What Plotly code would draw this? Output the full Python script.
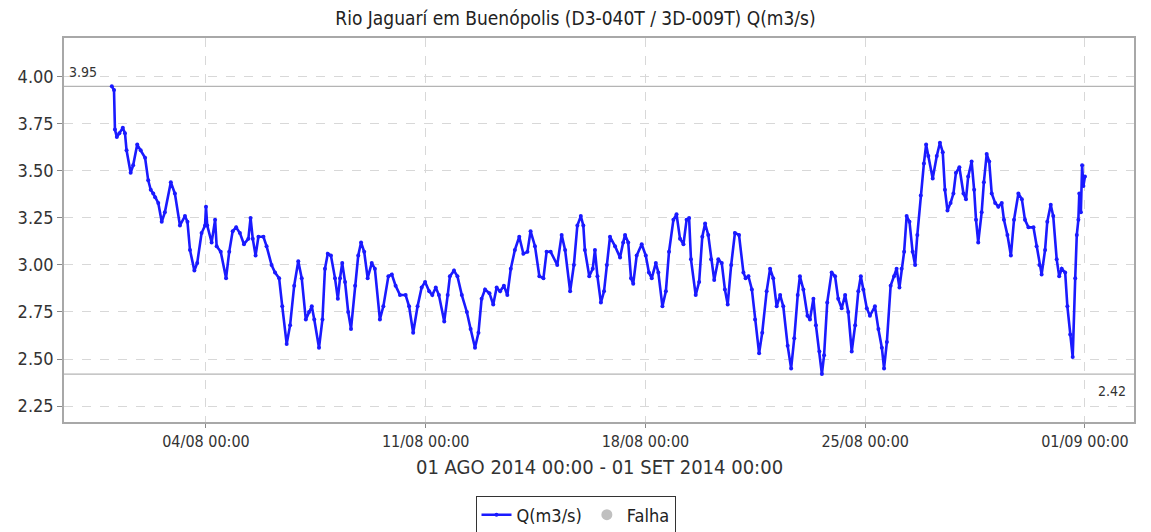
import pandas as pd
import plotly.graph_objects as go

# ---- data ----
start = "2014-08-01 00:00"
days = [0.00, 0.07, 0.10, 0.16, 0.24, 0.35, 0.42, 0.47, 0.60, 0.68, 0.81, 0.92, 1.06, 1.16, 1.24, 1.32, 1.38, 1.48, 1.59, 1.69,
        1.88, 2.01, 2.17, 2.33, 2.41, 2.49, 2.63, 2.72, 2.86, 2.97, 3.00, 3.04, 3.18, 3.29, 3.34, 3.47, 3.64, 3.74, 3.85, 3.96,
        4.08, 4.21, 4.35, 4.42, 4.49, 4.58, 4.67, 4.83, 4.93, 5.09,
        5.20, 5.33, 5.43, 5.57, 5.68, 5.81, 5.94, 6.05, 6.18, 6.28, 6.37, 6.45, 6.60, 6.71, 6.79, 6.88, 6.98, 7.11, 7.20, 7.27,
        7.34, 7.43, 7.53, 7.62, 7.75, 7.85, 7.94, 8.04, 8.15, 8.28, 8.38, 8.54, 8.65, 8.81, 8.92, 9.04, 9.18, 9.36, 9.47, 9.60,
        9.74, 9.87, 9.98, 10.11, 10.21, 10.32, 10.42, 10.59, 10.70,
        10.77, 10.90, 11.01, 11.15, 11.31, 11.43, 11.57, 11.68, 11.78, 11.89, 12.03, 12.15, 12.26, 12.37, 12.49, 12.60, 12.71,
        12.84, 12.98, 13.11, 13.24, 13.34, 13.48, 13.62, 13.75, 13.85, 13.98, 14.19, 14.33, 14.44, 14.60, 14.72, 14.83, 14.94,
        15.02, 15.07, 15.21, 15.32, 15.39, 15.47, 15.58, 15.68, 15.77, 15.87, 16.03, 16.19, 16.29,
        16.35, 16.45, 16.54, 16.61, 16.72, 16.88, 17.01, 17.11, 17.20, 17.33, 17.41, 17.54, 17.65, 17.75, 17.89, 17.99, 18.10,
        18.21, 18.31, 18.39, 18.45, 18.60, 18.71, 18.81, 18.90, 19.00, 19.09, 19.19, 19.32, 19.43, 19.53, 19.62, 19.73, 19.85,
        19.98, 20.12, 20.19, 20.28, 20.39, 20.49, 20.62, 20.72, 20.86, 20.97, 21.07, 21.18, 21.29, 21.39, 21.53, 21.64, 21.74, 21.85,
        21.92, 22.03, 22.16, 22.24, 22.35, 22.43, 22.54, 22.62, 22.69, 22.79, 22.93, 23.04, 23.14, 23.25, 23.36, 23.46, 23.57,
        23.68, 23.78, 23.86, 23.94, 24.05, 24.15, 24.31, 24.42, 24.53, 24.60, 24.69, 24.81, 24.92, 25.00, 25.09, 25.16, 25.24,
        25.32, 25.41, 25.51, 25.59, 25.66, 25.77, 25.87, 25.94, 26.01, 26.15, 26.28, 26.38, 26.47, 26.54, 26.62, 26.72, 26.81,
        26.89, 27.00,
        27.13, 27.21, 27.28, 27.39, 27.47, 27.53, 27.60, 27.71, 27.78, 27.87, 27.95, 28.03, 28.14, 28.24, 28.35, 28.42, 28.53,
        28.64, 28.74, 28.88, 28.99, 29.09, 29.20, 29.36, 29.46, 29.55, 29.62, 29.73, 29.80, 29.91, 29.99, 30.10, 30.18, 30.26,
        30.37, 30.44, 30.53, 30.61, 30.69, 30.74, 30.79, 30.82, 30.87, 30.91, 30.95, 31.00]
flow = [3.95, 3.93, 3.72, 3.68, 3.70, 3.73, 3.70, 3.61, 3.49, 3.53, 3.64, 3.61, 3.57, 3.45, 3.40, 3.38, 3.36, 3.33, 3.23, 3.28,
        3.44, 3.38, 3.21, 3.26, 3.23, 3.08, 2.97, 3.01, 3.17, 3.21, 3.31, 3.21, 3.12, 3.24, 3.10, 3.07, 2.93, 3.07, 3.18, 3.20,
        3.17, 3.11, 3.14, 3.25, 3.14, 3.05, 3.15, 3.15, 3.10, 3.00,
        2.96, 2.93, 2.78, 2.58, 2.68, 2.89, 3.02, 2.93, 2.71, 2.75, 2.78, 2.71, 2.56, 2.71, 2.98, 3.06, 3.05, 2.93, 2.82, 2.93,
        3.01, 2.91, 2.75, 2.66, 2.89, 3.05, 3.12, 3.07, 2.93, 3.01, 2.98, 2.71, 2.78, 2.94, 2.95, 2.89, 2.84, 2.84, 2.78, 2.64,
        2.78, 2.88, 2.91, 2.86, 2.84, 2.88, 2.84, 2.70, 2.84,
        2.94, 2.97, 2.94, 2.84, 2.75, 2.66, 2.56, 2.64, 2.82, 2.87, 2.85, 2.79, 2.88, 2.86, 2.89, 2.84, 2.98,
        3.08, 3.15, 3.06, 3.07, 3.18, 3.10, 2.94, 2.93, 3.07, 3.07, 3.00, 3.16, 3.08, 2.86, 3.00, 3.21, 3.26,
        3.21, 3.08, 2.94, 2.98, 3.08, 2.94, 2.80, 2.86, 3.00, 3.15, 3.10, 3.04, 3.12,
        3.16, 3.12, 2.93, 2.90, 3.05, 3.11, 3.05, 2.96, 2.93, 3.01, 2.96, 2.78, 2.86, 3.07, 3.24, 3.27, 3.14,
        3.11, 3.24, 3.25, 3.03, 2.84, 2.91, 3.15, 3.22, 3.16, 3.03, 2.92, 3.03, 3.01, 2.87, 2.79, 3.00, 3.17,
        3.16, 2.96, 2.93, 2.94, 2.87, 2.71, 2.53, 2.64, 2.86, 2.98, 2.93, 2.78, 2.84, 2.78, 2.57, 2.45, 2.61, 2.84,
        2.94, 2.87, 2.73, 2.71, 2.82, 2.68, 2.54, 2.42, 2.52, 2.80, 2.96, 2.94, 2.82, 2.77, 2.84, 2.75, 2.54,
        2.68, 2.86, 2.94, 2.87, 2.77, 2.73, 2.78, 2.66, 2.56, 2.45, 2.59, 2.89, 2.94, 2.98, 2.88, 2.98, 3.07,
        3.26, 3.23, 3.07, 3.00, 3.16, 3.37, 3.54, 3.64, 3.58, 3.46, 3.58, 3.65, 3.60, 3.40, 3.29, 3.33, 3.38,
        3.49, 3.52,
        3.38, 3.35, 3.47, 3.55, 3.40, 3.24, 3.12, 3.28, 3.44, 3.59, 3.55, 3.38, 3.33, 3.31, 3.33, 3.24, 3.16,
        3.05, 3.24, 3.38, 3.35, 3.24, 3.20, 3.20, 3.10, 3.00, 2.95, 3.08, 3.23, 3.32, 3.26, 3.03, 2.94, 2.98,
        2.96, 2.78, 2.63, 2.51, 2.93, 3.16, 3.24, 3.38, 3.28, 3.53, 3.42, 3.47]

x_tick_dates = ["2014-08-04", "2014-08-11", "2014-08-18", "2014-08-25", "2014-09-01"]
x_tick_labels = ["04/08 00:00", "11/08 00:00", "18/08 00:00", "25/08 00:00", "01/09 00:00"]
y_ticks = [2.25, 2.50, 2.75, 3.00, 3.25, 3.50, 3.75, 4.00]

title_text = "Rio Jaguarí em Buenópolis (D3-040T / 3D-009T) Q(m3/s)"
period_text = "01 AGO 2014 00:00 - 01 SET 2014 00:00"

times = pd.Timestamp(start) + pd.to_timedelta(days, unit="D")
vmax, vmin = max(flow), min(flow)

FONT = "DejaVu Sans Condensed"
BLUE = "#1a1aff"

fig = go.Figure()
fig.add_trace(go.Scatter(x=times, y=flow, mode="lines+markers", name="Q(m3/s)",
                         line=dict(color=BLUE, width=2.6), marker=dict(color=BLUE, size=4)))
fig.add_trace(go.Scatter(x=[None], y=[None], mode="markers", name="Falha",
                         marker=dict(color="#c0c0c0", size=11, symbol="circle")))

for v in (vmax, vmin):
    fig.add_shape(type="line", xref="paper", x0=0, x1=1, yref="y", y0=v, y1=v,
                  line=dict(color="#b4b4b4", width=1.2), layer="below")

fig.add_annotation(xref="paper", x=0.003, y=vmax, yref="y", text=f"{vmax:.2f}", showarrow=False,
                   xanchor="left", yanchor="bottom", yshift=4, font=dict(family=FONT, size=14, color="#333333"))
fig.add_annotation(xref="paper", x=0.994, y=vmin, yref="y", text=f"{vmin:.2f}", showarrow=False,
                   xanchor="right", yanchor="top", yshift=-7, font=dict(family=FONT, size=14, color="#333333"))
fig.add_annotation(xref="paper", yref="paper", x=0.5, y=-0.117, text=period_text, showarrow=False,
                   xanchor="center", yanchor="middle", font=dict(family=FONT, size=20, color="#333333"))

fig.update_layout(
    width=1151, height=532,
    margin=dict(l=64, r=17, t=38, b=110, autoexpand=False),
    paper_bgcolor="white", plot_bgcolor="white",
    title=dict(text=title_text, x=0.5, xanchor="center", y=1 - 18 / 532, yanchor="middle",
               font=dict(family=FONT, size=19, color="#222222")),
    font=dict(family=FONT, size=16, color="#333333"),
    showlegend=True,
    legend=dict(orientation="h", xref="container", x=0.5, xanchor="center", yref="container",
                y=17 / 532, yanchor="middle", bordercolor="#333333", borderwidth=1,
                font=dict(family=FONT, size=18, color="#222222"), itemwidth=30, tracegroupgap=0),
    xaxis=dict(type="date", range=["2014-07-30 11:27", "2014-09-02 13:30"],
               tickvals=x_tick_dates, ticktext=x_tick_labels,
               showgrid=True, gridcolor="#d8d8d8", griddash="dash", gridwidth=1,
               showline=True, linecolor="#a8a8a8", linewidth=1.5, mirror=True,
               ticks="outside", ticklen=4, tickcolor="#888888", zeroline=False,
               tickfont=dict(family=FONT, size=16, color="#333333")),
    yaxis=dict(range=[2.165, 4.207], tickvals=y_ticks, tickformat=".2f",
               showgrid=True, gridcolor="#d8d8d8", griddash="dash", gridwidth=1,
               showline=True, linecolor="#a8a8a8", linewidth=1.5, mirror=True,
               ticks="outside", ticklen=5, tickcolor="#888888", zeroline=False,
               tickfont=dict(family=FONT, size=18, color="#333333")),
)

fig.write_html("out.html", config={"displayModeBar": False},
               post_script="document.body.style.margin='0';document.body.style.overflow='hidden';")
